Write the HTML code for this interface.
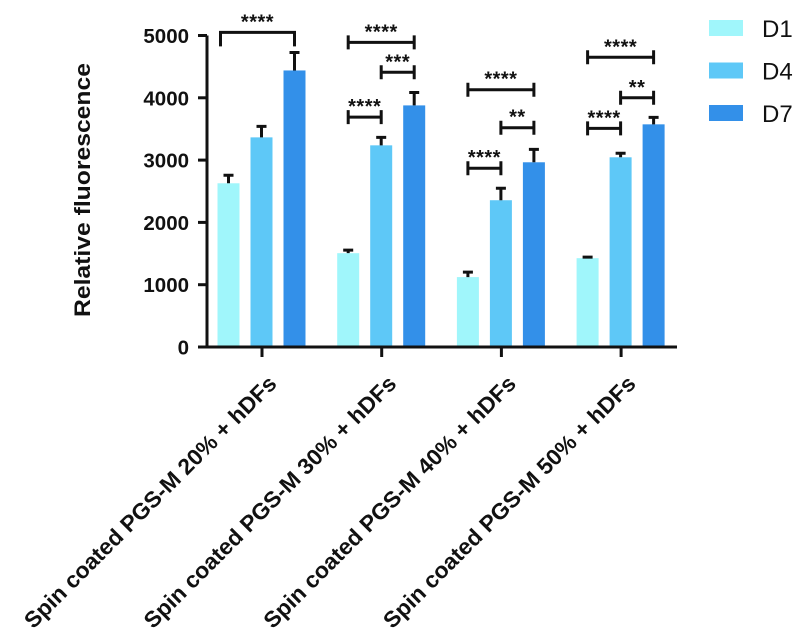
<!DOCTYPE html>
<html><head><meta charset="utf-8"><style>
html,body{margin:0;padding:0;background:#fff;}
svg{display:block;font-family:"Liberation Sans",Arial,sans-serif;}
</style></head><body>
<svg id="chart" width="803" height="637" viewBox="0 0 803 637" xmlns="http://www.w3.org/2000/svg"></svg>
<script>
const categories = ["Spin coated PGS-M 20% + hDFs","Spin coated PGS-M 30% + hDFs","Spin coated PGS-M 40% + hDFs","Spin coated PGS-M 50% + hDFs"];
const seriesNames = ["D1","D4","D7"];
const d1Values = [2628, 1506, 1122, 1426];
const d4Values = [3365, 3237, 2356, 3045];
const d7Values = [4439, 3878, 2965, 3574];
const d1Errors = [128, 48, 80, 16];
const d4Errors = [176, 128, 192, 64];
const d7Errors = [288, 208, 208, 112];
const yTicks = [0, 1000, 2000, 3000, 4000, 5000];
const sigGroups = [0,1,1,1,2,2,2,3,3,3];
const sigFrom = [0,0,1,0,0,1,0,0,1,0];
const sigTo = [2,2,2,1,2,2,1,2,2,1];
const sigLabels = ["****","****","***","****","****","**","****","****","**","****"];
const sigLevels = [5050,4890,4410,3690,4130,3520,2870,4650,4000,3510];

const colors = ["#a0f6fb","#5ec8f7","#3390e9"];
const svg = document.getElementById('chart');
const NS = "http://www.w3.org/2000/svg";
const x0 = 207, yBase = 347, pxPer = 62.3/1000;
function yScale(v){ return yBase - v*pxPer; }
function groupX(i){ return 262 + i*119.7; }
function barCenter(g,s){ return groupX(g) + (s-1)*33 - 0.5; }
function mk(tag, attrs, parent){ const e=document.createElementNS(NS,tag); for(const k in attrs) e.setAttribute(k,attrs[k]); (parent||svg).appendChild(e); return e; }

const allVals=[d1Values,d4Values,d7Values], allErr=[d1Errors,d4Errors,d7Errors];
for(let s=0;s<3;s++){
  for(let g=0;g<categories.length;g++){
    const cx=barCenter(g,s), v=allVals[s][g], e=allErr[s][g];
    const b=mk('rect',{x:cx-11,y:yScale(v),width:22,height:yBase-yScale(v),fill:colors[s]});
    
    
    const eb=mk('path',{d:`M${cx} ${yScale(v)}V${yScale(v+e)}M${cx-5} ${yScale(v+e)}H${cx+5}`,stroke:'#111','stroke-width':3,fill:'none'});
    
    
  }
}
const ax=mk('path',{d:`M${x0} ${yScale(5000)}V${yBase}H677`,stroke:'#111','stroke-width':3,fill:'none'});


yTicks.forEach(t=>{
  const y=yScale(t);
  mk('line',{x1:198,x2:x0,y1:y,y2:y,stroke:'#111','stroke-width':3});
  const tx=mk('text',{x:189,y:y+7.5,'text-anchor':'end','font-size':20.5,'font-weight':'bold',fill:'#111'});
  tx.textContent=t;
  
  
});
categories.forEach((c,g)=>{
  const gx=groupX(g);
  mk('line',{x1:gx,x2:gx,y1:yBase,y2:yBase+10,stroke:'#111','stroke-width':3});
  const ex=gx+16, ey=385, L=346;
  const t=mk('text',{x:ex-L,y:ey,textLength:L,lengthAdjust:'spacingAndGlyphs','font-size':22.5,'font-weight':'bold',fill:'#111',transform:`rotate(-45 ${ex} ${ey})`});
  t.textContent=c;
  
  
});
const yt=mk('text',{x:90-127,y:190,textLength:254,lengthAdjust:'spacingAndGlyphs','font-size':22,'font-weight':'bold',fill:'#111',transform:'rotate(-90 90 190)'});
yt.textContent='Relative fluorescence';


sigGroups.forEach((g,i)=>{
  const xa=barCenter(g,sigFrom[i]), xb=barCenter(g,sigTo[i]), y=yScale(sigLevels[i]);
  let d;
  if(g===0){ d=`M${xa-8} ${y+14}V${y}H${xb}V${y+14}`; }
  else { d=`M${xa} ${y-7}V${y+7}M${xa} ${y}H${xb}M${xb} ${y-7}V${y+7}`; }
  const p=mk('path',{d:d,stroke:'#111','stroke-width':3,fill:'none'});
  
  
  const st=mk('text',{x:(xa+xb)/2-(g===0?4:0),y:y-4,'text-anchor':'middle','font-size':20,'font-weight':'bold',fill:'#111','letter-spacing':'0.5'});
  st.textContent=sigLabels[i];
  
  
});
seriesNames.forEach((n,s)=>{
  const y=20+s*42.5;
  const r=mk('rect',{x:709,y:y,width:34,height:16,fill:colors[s]});
  
  
  const t=mk('text',{x:762,y:y+17,'font-size':24,fill:'#111'});
  t.textContent=n;
  
  
});
</script>
</body></html>
